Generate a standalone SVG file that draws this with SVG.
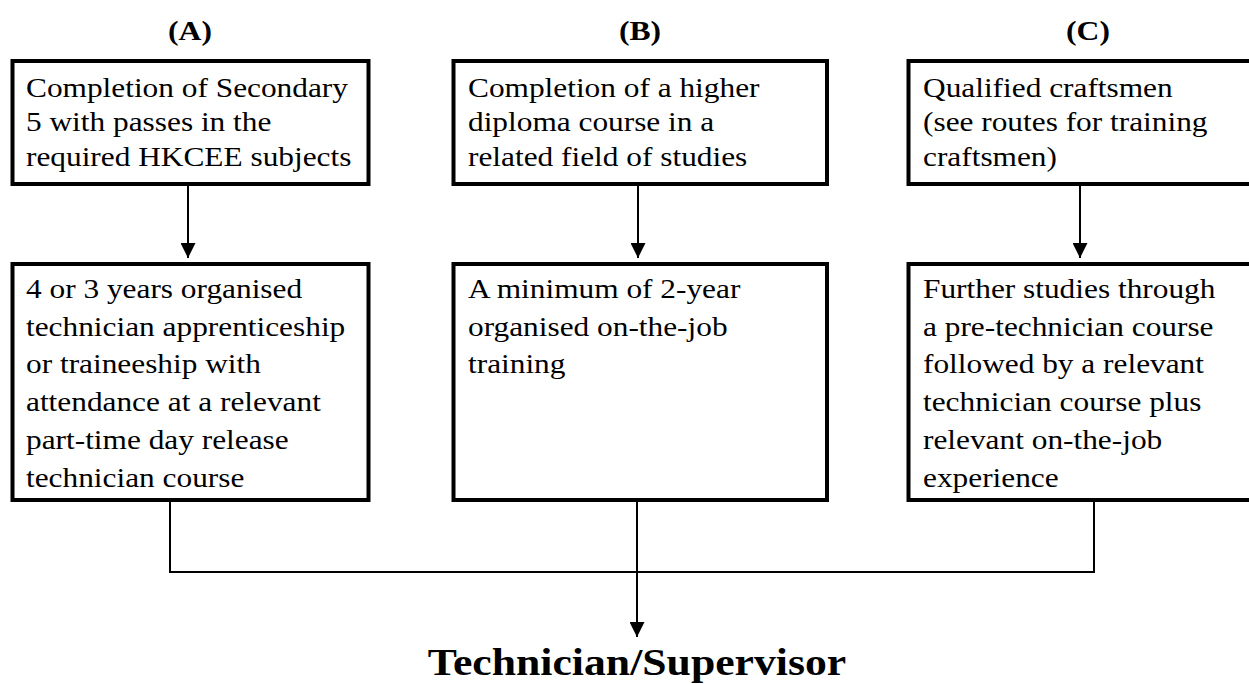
<svg xmlns="http://www.w3.org/2000/svg" width="1249" height="684" viewBox="0 0 1249 684">
  <style>
    .box { fill: #ffffff; stroke: #000000; stroke-width: 4; }
    .t { font-family: "Liberation Serif", "Times New Roman", serif; font-size: 27.5px; fill: #000000; }
    .h { font-family: "Liberation Serif", "Times New Roman", serif; font-size: 27.5px; font-weight: bold; fill: #000000; text-anchor: middle; }
    .c { fill: none; stroke: #000000; stroke-width: 2; }
  </style>
  <defs>
    <marker id="arr" viewBox="0 0 15 15" refX="15" refY="7.5" markerWidth="15" markerHeight="15" markerUnits="userSpaceOnUse" orient="auto">
      <path d="M0,0 L15,7.5 L0,15 Z" fill="#000000"/>
    </marker>
  </defs>
  <rect width="1249" height="684" fill="#ffffff"/>

  <g id="headers">
    <text class="h" transform="translate(190,40) scale(1.15,1)">(A)</text>
    <text class="h" transform="translate(640,40) scale(1.15,1)">(B)</text>
    <text class="h" transform="translate(1088,40) scale(1.15,1)">(C)</text>
  </g>

  <g id="connectors">
    <line class="c" x1="188" y1="186" x2="188" y2="258" marker-end="url(#arr)"/>
    <line class="c" x1="638" y1="186" x2="638" y2="258" marker-end="url(#arr)"/>
    <line class="c" x1="1080" y1="186" x2="1080" y2="258" marker-end="url(#arr)"/>
    <polyline class="c" points="170,502 170,572 1094,572 1094,502"/>
    <line class="c" x1="637" y1="502" x2="637" y2="637" marker-end="url(#arr)"/>
  </g>

  <g id="nodeA1">
    <rect class="box" x="12.5" y="61" width="356" height="123"/>
    <g transform="translate(26,0) scale(1.14,1)" class="t">
      <text x="0" y="97">Completion of Secondary</text>
      <text x="0" y="131.5">5 with passes in the</text>
      <text x="0" y="166">required HKCEE subjects</text>
    </g>
  </g>

  <g id="nodeB1">
    <rect class="box" x="453.5" y="61" width="373.5" height="123"/>
    <g transform="translate(468,0) scale(1.14,1)" class="t">
      <text x="0" y="97">Completion of a higher</text>
      <text x="0" y="131.5">diploma course in a</text>
      <text x="0" y="166">related field of studies</text>
    </g>
  </g>

  <g id="nodeC1">
    <rect class="box" x="908.5" y="61" width="350" height="123"/>
    <g transform="translate(923,0) scale(1.14,1)" class="t">
      <text x="0" y="97">Qualified craftsmen</text>
      <text x="0" y="131.5">(see routes for training</text>
      <text x="0" y="166">craftsmen)</text>
    </g>
  </g>

  <g id="nodeA2">
    <rect class="box" x="12.5" y="264" width="356" height="236"/>
    <g transform="translate(26,0) scale(1.14,1)" class="t">
      <text x="0" y="298">4 or 3 years organised</text>
      <text x="0" y="336">technician apprenticeship</text>
      <text x="0" y="373.5">or traineeship with</text>
      <text x="0" y="411.5">attendance at a relevant</text>
      <text x="0" y="449">part-time day release</text>
      <text x="0" y="487">technician course</text>
    </g>
  </g>

  <g id="nodeB2">
    <rect class="box" x="453.5" y="264" width="373.5" height="236"/>
    <g transform="translate(468,0) scale(1.14,1)" class="t">
      <text x="0" y="298">A minimum of 2-year</text>
      <text x="0" y="336">organised on-the-job</text>
      <text x="0" y="373.5">training</text>
    </g>
  </g>

  <g id="nodeC2">
    <rect class="box" x="908.5" y="264" width="350" height="236"/>
    <g transform="translate(923,0) scale(1.14,1)" class="t">
      <text x="0" y="298">Further studies through</text>
      <text x="0" y="336">a pre-technician course</text>
      <text x="0" y="373.5">followed by a relevant</text>
      <text x="0" y="411.5">technician course plus</text>
      <text x="0" y="449">relevant on-the-job</text>
      <text x="0" y="487">experience</text>
    </g>
  </g>

  <g id="nodeResult">
    <text class="h" style="font-size:38px" transform="translate(637,675) scale(1.15,1)">Technician/Supervisor</text>
  </g>
</svg>
